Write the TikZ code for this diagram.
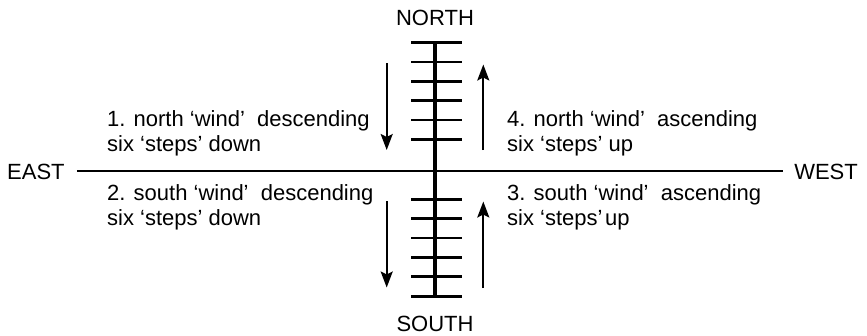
\documentclass[tikz,border=0pt]{standalone}
\usepackage{fontspec}
\setmainfont{Liberation Sans}
\usetikzlibrary{arrows.meta}
\tikzset{
  axisline/.style={line width=2pt},
  poleline/.style={line width=4pt},
  rung/.style={line width=2.7pt},
  windarrow/.style={line width=2pt,-{Stealth[length=16pt,width=12pt,inset=3pt]}},
  compass/.style={inner sep=0pt,font=\fontsize{22}{25}\selectfont},
  lbl/.style={inner sep=0pt,align=left,font=\fontsize{22}{25}\selectfont,anchor=base west},
}
\begin{document}
\begin{tikzpicture}[x=1pt,y=-1pt]
\useasboundingbox (0,0) rectangle (867,335);
% compass labels
\node[compass,anchor=base] (north) at (435,25) {NORTH};
\node[compass,anchor=base] (south) at (435,331.5) {SOUTH};
\node[compass,anchor=base west] (east) at (7,179) {EAST};
\node[compass,anchor=base east] (west) at (858,179) {WEST};
% horizontal axis
\draw[axisline] ([xshift=12pt]east.east) -- ([xshift=-11pt]west.west);
% vertical pole
\coordinate (ptop) at (435,42.7);
\coordinate (pbot) at (435,297.5);
\draw[poleline] (ptop) -- (pbot);
% rungs
\foreach \y in {42.7,62,81.3,100.6,119.9,139.2,199.3,218.6,237.9,257.2,276.5,296.8}
  \draw[rung] (411,\y) -- (461.5,\y);
% arrows
\coordinate (a1s) at (386.7,63);
\coordinate (a1e) at (386.7,150);
\coordinate (a4s) at (483.3,150);
\coordinate (a4e) at (483.3,64.5);
\coordinate (a2s) at (386.7,201);
\coordinate (a2e) at (386.7,287.5);
\coordinate (a3s) at (483.3,288);
\coordinate (a3e) at (483.3,201.5);
\draw[windarrow] (a1s) -- (a1e);
\draw[windarrow] (a4s) -- (a4e);
\draw[windarrow] (a2s) -- (a2e);
\draw[windarrow] (a3s) -- (a3e);
% labels (base anchor = baseline of last line)
\node[lbl] (l1) at (107,151.7) {1. north ‘wind’\ \ descending\\six ‘steps’ down};
\node[lbl] (l2) at (107,225) {2. south ‘wind’\ \ descending\\six ‘steps’ down};
\node[lbl] (l4) at (507,151.5) {4. north ‘wind’\ \ ascending\\six ‘steps’ up};
\node[lbl] (l3) at (507,225) {3. south ‘wind’\ \ ascending\\six ‘steps’\hspace{0.12em}up};
\end{tikzpicture}
\end{document}
